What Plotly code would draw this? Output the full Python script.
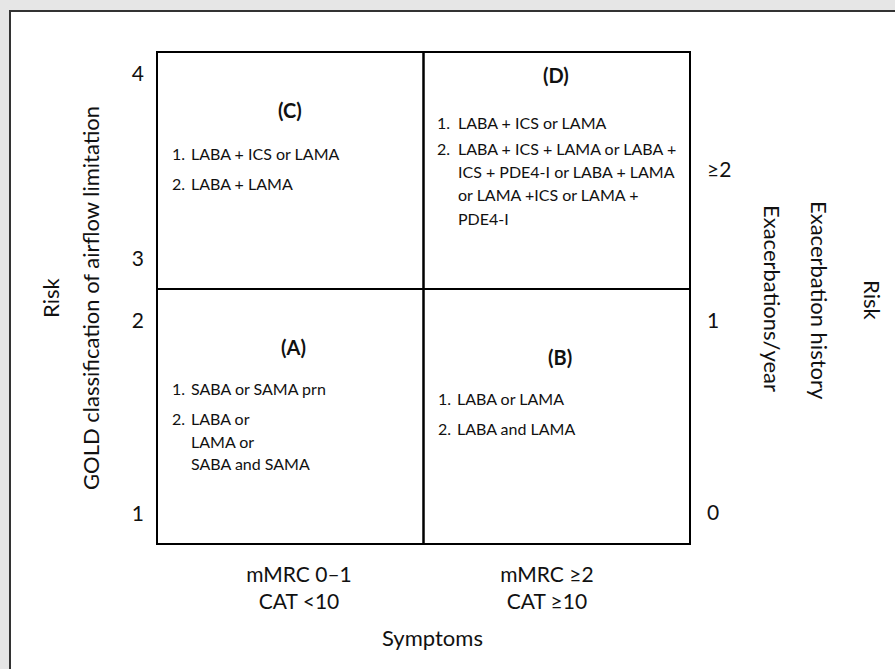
import plotly.graph_objects as go

# ---- data ----
x_edges = [0, 1, 2]            # symptom columns: low / high
y_edges = [0, 1.037, 2]        # risk rows: low / high (divider position)

left_tick_labels = ["1", "2", "3", "4"]
left_tick_vals = [0.122, 0.907, 1.159, 1.912]
right_tick_labels = ["0", "1", "≥2"]
right_tick_vals = [0.126, 0.907, 1.520]

x_tick_labels = ["mMRC 0–1<br>CAT <10", "mMRC ≥2<br>CAT ≥10"]
x_tick_vals = [0.533, 1.463]

group_names = ["(A)", "(B)", "(C)", "(D)"]
group_items = {
    "(A)": [("1.", ["SABA or SAMA prn"]),
            ("2.", ["LABA or", "LAMA or", "SABA and SAMA"])],
    "(B)": [("1.", ["LABA or LAMA"]),
            ("2.", ["LABA and LAMA"])],
    "(C)": [("1.", ["LABA + ICS or LAMA"]),
            ("2.", ["LABA + LAMA"])],
    "(D)": [("1.", ["LABA + ICS or LAMA"]),
            ("2.", ["LABA + ICS + LAMA or LABA +",
                    "ICS + PDE4-I or LABA + LAMA",
                    "or LAMA +ICS or LAMA +",
                    "PDE4-I"])],
}

# ---- layout helpers (pixel geometry of the reference) ----
W, H = 895, 669
BOX_L, BOX_R, BOX_T, BOX_B = 157, 690, 52, 544
PAD = 10
PL, PR, PT, PB = BOX_L - PAD, BOX_R + PAD, BOX_T - PAD, BOX_B + PAD

def xv(px):
    return (px - BOX_L) / (BOX_R - BOX_L) * 2

def yv(py):
    return (BOX_B - py) / (BOX_B - BOX_T) * 2

def xp(px):
    return (px - PL) / (PR - PL)

def yp(py):
    return (PB - py) / (PB - PT)

FONT = "Lato, 'Open Sans', sans-serif"
TXT = "#111111"

fig = go.Figure()
# invisible traces so both y axes render
fig.add_trace(go.Scatter(x=[x_edges[0], x_edges[-1]], y=[y_edges[0], y_edges[-1]],
                         mode="markers", marker=dict(opacity=0), hoverinfo="skip",
                         showlegend=False))
fig.add_trace(go.Scatter(x=[x_edges[0], x_edges[-1]], y=[y_edges[0], y_edges[-1]],
                         mode="markers", marker=dict(opacity=0), hoverinfo="skip",
                         showlegend=False, yaxis="y2"))

shapes = []
# white panel with dark border
shapes.append(dict(type="rect", xref="paper", yref="paper",
                   x0=xp(10), x1=xp(W + 20), y0=yp(H + 20), y1=yp(11),
                   fillcolor="white", line=dict(color="#333333", width=2), layer="below"))
# quadrants
for i in range(2):
    for j in range(2):
        shapes.append(dict(type="rect", xref="x", yref="y",
                           x0=x_edges[i], x1=x_edges[i + 1],
                           y0=y_edges[j], y1=y_edges[j + 1],
                           line=dict(color="black", width=2), fillcolor="rgba(0,0,0,0)"))

ann = []
layout_pos = {
    "(C)": dict(hx=290, hy=110, nx=170, bx=189, ys=[[153], [183]]),
    "(D)": dict(hx=556, hy=75, nx=435, bx=456, ys=[[122], [148, 171, 194, 218]]),
    "(A)": dict(hx=293, hy=347, nx=170, bx=189, ys=[[388], [418, 441, 463]]),
    "(B)": dict(hx=560, hy=357, nx=436, bx=455, ys=[[398], [428]]),
}
for g in group_names:
    p = layout_pos[g]
    ann.append(dict(x=xv(p["hx"]), y=yv(p["hy"]), xref="x", yref="y", text="<b>" + g + "</b>",
                    showarrow=False, font=dict(family=FONT, size=20, color=TXT),
                    xanchor="center", yanchor="middle"))
    for (num, lines), ys in zip(group_items[g], p["ys"]):
        ann.append(dict(x=xv(p["nx"]), y=yv(ys[0]), xref="x", yref="y", text=num,
                        showarrow=False, font=dict(family=FONT, size=16, color=TXT),
                        xanchor="left", yanchor="middle"))
        for line, y in zip(lines, ys):
            ann.append(dict(x=xv(p["bx"]), y=yv(y), xref="x", yref="y", text=line,
                            showarrow=False, font=dict(family=FONT, size=16, color=TXT),
                            xanchor="left", yanchor="middle"))

def title(px, py, text, angle=0):
    return dict(x=xp(px), y=yp(py), xref="paper", yref="paper", text=text, textangle=angle,
                showarrow=False, xanchor="center", yanchor="middle",
                font=dict(family=FONT, size=22, color=TXT))

ann.append(title(50, 298, "Risk", -90))
ann.append(title(90, 298, "GOLD classification of airflow limitation", -90))
ann.append(title(773, 298, "Exacerbations/year", 90))
ann.append(title(820, 300, "Exacerbation history", 90))
ann.append(title(873, 300, "Risk", 90))
ann.append(title(432, 637, "Symptoms"))

xr = [xv(PL), xv(PR)]
yr = [yv(PB), yv(PT)]

fig.update_layout(
    width=W, height=H, autosize=False,
    margin=dict(l=PL, r=W - PR, t=PT, b=H - PB, pad=0),
    paper_bgcolor="#e6e6e6", plot_bgcolor="white",
    shapes=shapes, annotations=ann, showlegend=False,
    xaxis=dict(range=xr, showgrid=False, zeroline=False, showline=False,
               tickvals=x_tick_vals, ticktext=x_tick_labels, ticks="",
               ticklabelstandoff=6,
               tickfont=dict(family=FONT, size=21, color=TXT), fixedrange=True),
    yaxis=dict(range=yr, showgrid=False, zeroline=False, showline=False,
               tickvals=left_tick_vals, ticktext=left_tick_labels, ticks="",
               ticklabelstandoff=2,
               tickfont=dict(family=FONT, size=21, color=TXT), fixedrange=True),
    yaxis2=dict(range=yr, overlaying="y", side="right", showgrid=False, zeroline=False,
                showline=False, tickvals=right_tick_vals, ticktext=right_tick_labels,
                ticks="", ticklabelstandoff=6,
                tickfont=dict(family=FONT, size=21, color=TXT), fixedrange=True),
)

fig.write_html("out.html", config={"displayModeBar": False},
               post_script="document.body.style.margin='0px';document.body.style.overflow='hidden';")
